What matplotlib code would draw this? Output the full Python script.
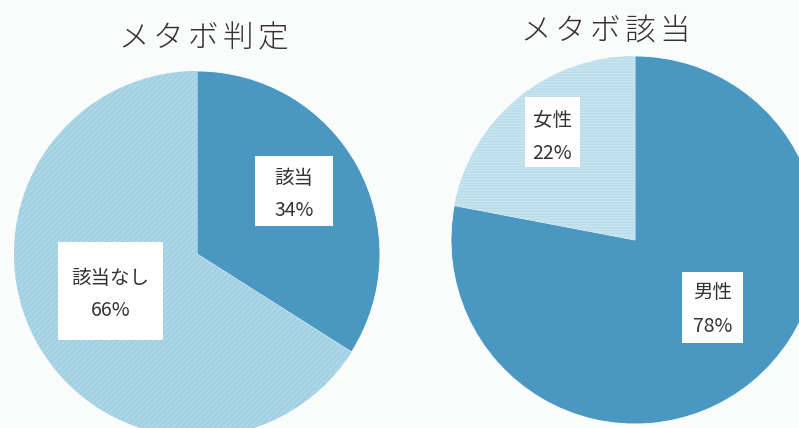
import numpy as np
import matplotlib.pyplot as plt
from matplotlib.patches import Rectangle

plt.rcParams['font.family'] = ['Noto Sans CJK JP', 'DejaVu Sans']

# left pie: メタボ判定
judge_labels = ['該当', '該当なし']
judge_values = [34, 66]
# right pie: メタボ該当
sex_labels = ['男性', '女性']
sex_values = [78, 22]

dark = '#4a98c2'
light = '#a0d0e2'
lighter = '#b6dbe9'
bg = '#fafbfb'

fig = plt.figure(figsize=(7.99, 4.28), dpi=100, facecolor=bg)
ax = fig.add_axes([0, 0, 1, 1])
ax.set_facecolor(bg)

H = 428  # work in pixel coords, y up

w1, _ = ax.pie(judge_values, colors=[dark, light], startangle=90, counterclock=False,
               center=(197, H - 254), radius=183,
               wedgeprops=dict(edgecolor='white', linewidth=0.6))
w2, _ = ax.pie(sex_values, colors=[dark, lighter], startangle=90, counterclock=False,
               center=(635, H - 240), radius=184,
               wedgeprops=dict(edgecolor='white', linewidth=0.6))

# faint scan stripes
w1[1].set_hatch('//////')
w1[1].set_edgecolor('#b3dae8')
w2[1].set_hatch('------')
w2[1].set_edgecolor('#cbe6f0')
for w in (w1[1], w2[1]):
    w.set_linewidth(0)

ax.set_xlim(0, 799)
ax.set_ylim(0, H)
ax.set_aspect('auto')
ax.axis('off')

# titles, wide letter spacing
def title(s, x0, y, pitch=35):
    for i, ch in enumerate(s):
        ax.text(x0 + i * pitch, H - y, ch, ha='center', va='center', fontsize=22,
                color='#333333', fontweight='light')

title('メタボ判定', 133, 38)
title('メタボ該当', 535, 31)

def label(cx, cy, w, h, name, val, y1, y2):
    ax.add_patch(Rectangle((cx - w / 2, H - cy - h / 2), w, h,
                           facecolor='white', edgecolor='none', zorder=3))
    ax.text(cx, H - y1, name, ha='center', va='center', fontsize=14,
            color='#333333', zorder=4)
    ax.text(cx, H - y2, f'{val}%', ha='center', va='center', fontsize=14,
            color='#333333', zorder=4)

label(294, 191, 78, 70, judge_labels[0], judge_values[0], 178, 210)
label(110.5, 291, 105, 98, judge_labels[1], judge_values[1], 279, 311)
label(712.5, 307.5, 61, 71, sex_labels[0], sex_values[0], 293, 327)
label(552.5, 132, 55, 70, sex_labels[1], sex_values[1], 120, 153)

fig.savefig('out.png', dpi=100, facecolor=bg)
